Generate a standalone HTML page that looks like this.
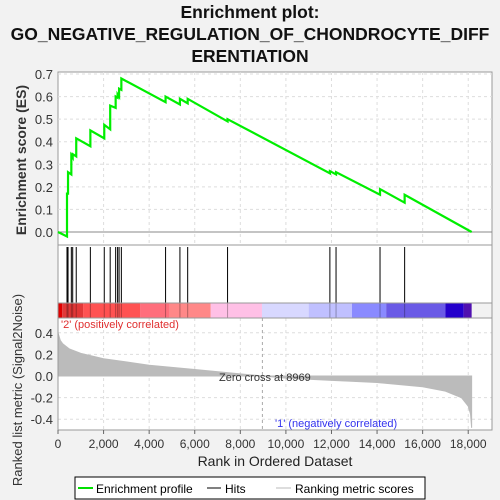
<!DOCTYPE html>
<html><head><meta charset="utf-8"><style>
html,body{margin:0;padding:0;background:#f2f2f2;overflow:hidden;font-family:"Liberation Sans",sans-serif}
svg{display:block}
svg text{font-family:"Liberation Sans","DejaVu Sans",sans-serif}
</style></head><body>
<svg id="c" width="500" height="500" xmlns="http://www.w3.org/2000/svg">
<rect width="500" height="500" fill="#f2f2f2"/>
<g font-weight="bold" font-size="17.5" text-anchor="middle" fill="#111">
<text x="250" y="18">Enrichment plot:</text>
<text x="250" y="40">GO_NEGATIVE_REGULATION_OF_CHONDROCYTE_DIFF</text>
<text x="250" y="62">ERENTIATION</text>
</g>
<g id="gtop"></g><g id="gmid"></g><g id="gbot"></g>
<g>
<rect x="75" y="477" width="350" height="22" fill="#fff" stroke="#000"/>
<line x1="78" y1="488" x2="93" y2="488" stroke="#00e000" stroke-width="2"/>
<text x="96" y="493" font-size="12">Enrichment profile</text>
<line x1="207" y1="488" x2="221" y2="488" stroke="#000"/>
<text x="225" y="493" font-size="12">Hits</text>
<line x1="276" y1="488" x2="291" y2="488" stroke="#bbb"/>
<text x="295" y="493" font-size="12">Ranking metric scores</text>
</g>
</svg>
<script>
const N=18150;
const hitRanks=[395,440,585,645,800,1420,2030,2290,2530,2615,2680,2780,4720,5350,5690,7440,11930,12200,14130,15210];
const esBefore=[-0.02,0.17,0.255,0.33,0.335,0.38,0.415,0.455,0.55,0.595,0.60,0.63,0.575,0.565,0.57,0.49,0.26,0.255,0.165,0.13];
const esAfter=[0.17,0.265,0.34,0.345,0.415,0.45,0.475,0.56,0.60,0.61,0.635,0.68,0.60,0.59,0.59,0.50,0.27,0.265,0.19,0.165];
const esTicks=[0,0.1,0.2,0.3,0.4,0.5,0.6,0.7];
const metricRanks=[0,100,200,500,1000,2000,4000,6000,8000,8969,10000,12000,14000,16000,17000,17700,18000,18100,18150];
const metricVals=[0.40,0.33,0.30,0.25,0.21,0.16,0.10,0.06,0.02,0,-0.02,-0.04,-0.06,-0.10,-0.14,-0.20,-0.28,-0.35,-0.48];
const metricTicks=[-0.4,-0.2,0,0.2,0.4];
const xTicks=[0,2000,4000,6000,8000,10000,12000,14000,16000,18000];
const barStops=[0,180,1100,3600,4900,6700,8950,11000,12900,14400,17000,17800,18150];
const barColors=['#e00000','#e23838','#ff5252','#ff6e7c','#ff8888','#ffc0e6','#d8d8ff','#c0c0ff','#8a8aff','#6a5ae6','#2400cc','#5010b0'];
const NS='http://www.w3.org/2000/svg';
const L=58,R=478;
const xs=r=>58+r*0.02279;
const yES=v=>232-v*225.7;
const yM=v=>376-v*108;
function mk(p,t,a){const e=document.createElementNS(NS,t);for(const k in a)e.setAttribute(k,a[k]);p.appendChild(e);return e;}
const gTop=document.getElementById('gtop'),gMid=document.getElementById('gmid'),gBot=document.getElementById('gbot');
const tp=mk(gTop,'rect',{x:L,y:72,width:R-L+14,height:173,fill:'#fff',stroke:'#999'});


const bbg=mk(gBot,'rect',{x:L,y:318,width:R-L+14,height:112,fill:'#fff'});
for(const t of xTicks){const x=xs(t);if(t>0){mk(gTop,'line',{x1:x,y1:72,x2:x,y2:245,stroke:'#ddd','stroke-dasharray':'3,3'});mk(gBot,'line',{x1:x,y1:318,x2:x,y2:430,stroke:'#ddd','stroke-dasharray':'3,3'});}}
for(const t of esTicks){const y=yES(t);mk(gTop,'line',{x1:L,y1:y,x2:492,y2:y,stroke:t===0?'#888':'#ddd','stroke-dasharray':t===0?'':'3,3'});
 const tx=mk(gTop,'text',{x:53,y:y+5,'font-size':13,'text-anchor':'end',fill:'#333'});tx.textContent=t.toFixed(1);
 
 }
const yt=mk(gTop,'text',{x:0,y:0,'font-size':14,'font-weight':'bold','text-anchor':'middle',fill:'#333',transform:'translate(26,160) rotate(-90)'});yt.textContent='Enrichment score (ES)';


let pts=[[0,0]];hitRanks.forEach((r,i)=>{pts.push([r,esBefore[i]]);pts.push([r,esAfter[i]]);});pts.push([N,0]);
const pl=mk(gTop,'polyline',{points:pts.map(p=>xs(p[0])+','+yES(p[1])).join(' '),fill:'none',stroke:'#00ee00','stroke-width':2.2});


const hp=mk(gMid,'rect',{x:L,y:245,width:R-L+14,height:58,fill:'#fff',stroke:'#999'});


for(const r of hitRanks){const l=mk(gMid,'line',{x1:xs(r),y1:247,x2:xs(r),y2:303,stroke:'#000'});
 
 }
for(let i=0;i<barColors.length;i++){const b=mk(gMid,'rect',{x:xs(barStops[i]),y:303,width:xs(barStops[i+1])-xs(barStops[i]),height:15,fill:barColors[i]});
 
 }
for(const r of hitRanks){mk(gMid,'line',{x1:xs(r),y1:303,x2:xs(r),y2:318,stroke:'#000','stroke-opacity':0.3});}
mk(gMid,'rect',{x:L,y:303,width:R-L+14,height:15,fill:'none',stroke:'#999'});
for(const t of metricTicks){const y=yM(t);if(t!==0)mk(gBot,'line',{x1:L,y1:y,x2:492,y2:y,stroke:'#ddd','stroke-dasharray':'3,3'});
 const tx=mk(gBot,'text',{x:53,y:y+5,'font-size':13,'text-anchor':'end',fill:'#333'});tx.textContent=t.toFixed(1);
 
 }
let mp='M'+xs(0)+','+yM(0);metricRanks.forEach((r,i)=>{mp+=' L'+xs(r)+','+yM(metricVals[i]);});mp+=' L'+xs(N)+','+yM(0)+' Z';
const ma=mk(gBot,'path',{d:mp,fill:'#bbb',stroke:'#bbb'});


mk(gBot,'line',{x1:xs(8969),y1:318,x2:xs(8969),y2:430,stroke:'#aaa','stroke-dasharray':'3,3'});
const bp=mk(gBot,'rect',{x:L,y:318,width:R-L+14,height:112,fill:'none',stroke:'#999'});


const zc=mk(gBot,'text',{x:219,y:381,'font-size':11,fill:'#333'});zc.textContent='Zero cross at 8969';


const p2=mk(gBot,'text',{x:61,y:328,'font-size':11,fill:'#e03030'});p2.textContent="'2' (positively correlated)";


const p1=mk(gBot,'text',{x:275,y:427,'font-size':11,fill:'#3333ee'});p1.textContent="'1' (negatively correlated)";


for(const t of xTicks){const tx=mk(gBot,'text',{x:xs(t),y:448,'font-size':12,'text-anchor':'middle',fill:'#333'});tx.textContent=t.toLocaleString('en-US');
 
 
 mk(gBot,'line',{x1:xs(t),y1:430,x2:xs(t),y2:434,stroke:'#666'});}
const xt=mk(gBot,'text',{x:275,y:466,'font-size':14,'text-anchor':'middle',fill:'#222'});xt.textContent='Rank in Ordered Dataset';


const yt2=mk(gBot,'text',{x:0,y:0,'font-size':13,'text-anchor':'middle',fill:'#333',transform:'translate(22,390) rotate(-90)'});yt2.textContent='Ranked list metric (Signal2Noise)';


</script>
</body></html>
